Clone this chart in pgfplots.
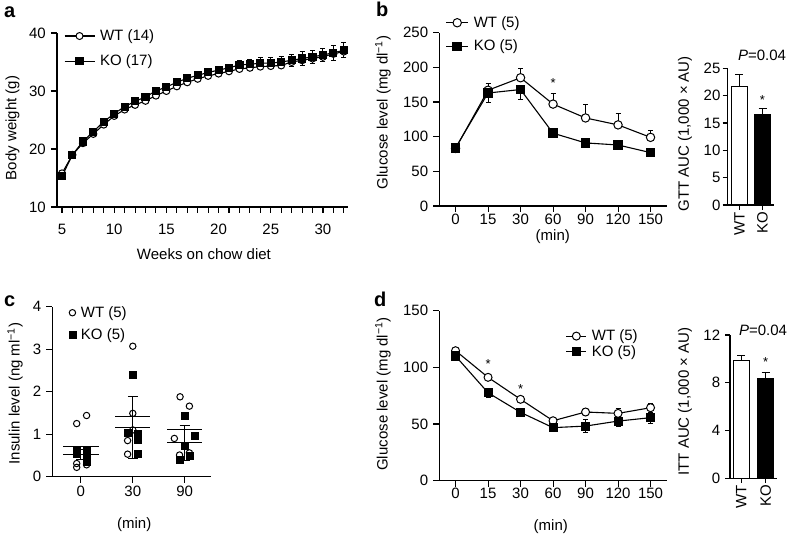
\documentclass[border=0pt]{standalone}
\usepackage{fontspec}
\setmainfont{Liberation Sans}
\usepackage{pgfplots}
\usepackage{pgfplotstable}
\pgfplotsset{compat=1.18}
\pgfplotstableread{
x wt ko e
5 15.8 15.3 0.4
6 19.0 19.0 0.4
7 21.0 21.3 0.4
8 22.6 23.0 0.4
9 24.2 24.7 0.5
10 25.7 26.1 0.5
11 26.8 27.3 0.5
12 27.6 28.2 0.5
13 28.3 29.0 0.5
14 29.2 30.0 0.5
15 30.0 30.7 0.5
16 30.8 31.5 0.5
17 31.5 32.2 0.5
18 32.1 32.7 0.6
19 32.6 33.2 0.6
20 33.0 33.6 0.6
21 33.4 34.0 0.6
22 33.8 34.5 0.7
23 34.0 34.6 0.8
24 34.2 34.8 0.9
25 34.3 34.8 0.9
26 34.4 35.0 0.9
27 35.0 35.3 1.0
28 35.3 35.6 1.2
29 35.6 35.9 1.1
30 35.9 36.2 1.2
31 36.4 36.6 1.3
32 36.8 37.0 1.3
}\bodyweight
\pgfplotstableread{
x wt wte ko koe
0 83 2 84 3
1 167 10 163 14
2 185 14 168 14
3 147 16 105 3
4 127 20 91 3
5 117 17 88 3
6 99 10 77 3
}\gtt
\pgfplotstableread{
x wt wte ko koe
0 114.7 3 110.0 2
1 91.2 2 77.6 4
2 71.8 2 60.3 2
3 52.9 2 46.8 2
4 60.6 3 48.2 6
5 59.4 4 52.6 5
6 64.4 4 55.6 5
}\itt
\pgfplotstableread{
x y
-0.08 1.25
0.11 1.44
-0.08 0.31
-0.08 0.22
0.11 0.28
1.0 1.49
0.9 0.85
0.9 0.53
1.0 1.10
1.0 3.07
1.8 0.90
2.09 1.66
1.91 1.88
1.9 0.51
2.09 0.56
}\insWT
\pgfplotstableread{
x y
-0.08 0.63
-0.08 0.55
0.11 0.63
0.11 0.43
0.11 0.35
0.9 1.04
1.1 1.00
1.1 0.86
1.1 0.53
1.0 2.41
2.0 1.44
2.19 0.96
2.0 0.72
1.9 0.39
2.09 0.49
}\insKO
\pgfplotsset{
  panel/.style={scale only axis, anchor=south west, axis lines*=left, tick align=outside, clip=false,
    axis line style={line width=1.1pt},
    tick style={black, line width=1.1pt},
    major tick length=6pt, minor tick length=6pt,
    /pgf/number format/assume math mode=true,
    tick label style={font=\fontsize{15}{18}\selectfont},
    label style={font=\fontsize{15}{18}\selectfont},
    legend cell align=left,
    legend style={draw=none, fill=none, inner sep=0pt, outer sep=0pt, anchor=north west,
      nodes={inner sep=1pt}, font=\fontsize{15}{18}\selectfont,
      /tikz/every odd column/.append style={column sep=4pt}},
  },
  wt/.style={black, line width=1.1pt, mark=*, mark options={fill=white, draw=black, solid, line width=1pt}},
  ko/.style={black, line width=1.1pt, mark=square*, mark options={fill=black, draw=black, solid}},
  eb/.style={error bars/y explicit, error bars/error bar style={line width=1pt, black}, error bars/error mark options={rotate=90, mark size=#1, line width=1pt, black}},
  eb/.default=2.5pt,
}
\begin{document}
\fontsize{15}{18}\selectfont
\begin{tikzpicture}[x=1pt,y=1pt]
\path[use as bounding box] (0,0) rectangle (788,535);
% panel letters
\node[anchor=base west, font=\bfseries\fontsize{20}{24}\selectfont, inner sep=0pt] at (4,517) {a};
\node[anchor=base west, font=\bfseries\fontsize{20}{24}\selectfont, inner sep=0pt] at (376,518) {b};
\node[anchor=base west, font=\bfseries\fontsize{20}{24}\selectfont, inner sep=0pt] at (4,228) {c};
\node[anchor=base west, font=\bfseries\fontsize{20}{24}\selectfont, inner sep=0pt] at (374,228) {d};

% ---------- panel a ----------
\begin{axis}[panel, at={(57pt,328pt)}, width=291pt, height=174pt,
  xmin=4.52, xmax=32.4, ymin=10, ymax=40,
  xtick={5,10,...,30}, minor xtick={6,...,32}, ytick={10,20,30,40},
  xticklabel style={yshift=-6pt},
  xlabel={Weeks on chow diet}, ylabel={Body weight (g)},
  xlabel style={at={(axis description cs:0.505,-0.27)}, anchor=center},
  ylabel style={at={(axis description cs:-0.153,0.454)}, anchor=center},
  legend style={at={(axis description cs:0.024,1.026)}, row sep=10pt},
  legend image code/.code={\draw[mark repeat=2,mark phase=2,#1] plot coordinates {(0pt,0pt) (15pt,0pt) (30pt,0pt)};},
  mark size=3.5pt]
\addplot[wt] table[x=x,y=wt] {\bodyweight};
\addlegendentry{WT (14)}
\addplot[ko, eb, error bars/y dir=both] table[x=x,y=ko,y error=e] {\bodyweight};
\addlegendentry{KO (17)}
\end{axis}

% ---------- panel b line ----------
\begin{axis}[panel, at={(439.3pt,329pt)}, width=227.5pt, height=173.3pt,
  xmin=-0.5, xmax=6.5, ymin=0, ymax=250,
  xtick={0,...,6}, xticklabels={0,15,30,60,90,120,150}, ytick={0,50,...,250},
  xticklabel style={inner sep=2pt},
  xlabel={(min)}, ylabel={Glucose level (mg dl\textsuperscript{\char"2212 1})},
  xlabel style={at={(axis description cs:0.499,-0.177)}, anchor=center},
  ylabel style={at={(axis description cs:-0.2475,0.54)}, anchor=center},
  legend style={at={(axis description cs:0.028,1.101)}, row sep=8.8pt},
  legend image code/.code={\draw[mark repeat=2,mark phase=2,#1] plot coordinates {(0pt,0pt) (11pt,0pt) (22pt,0pt)};},
  mark size=4.2pt]
\addplot[wt, eb, error bars/y dir=plus] table[x=x,y=wt,y error=wte] {\gtt};
\addlegendentry{WT (5)}
\addplot[ko, eb, error bars/y dir=minus] table[x=x,y=ko,y error=koe] {\gtt};
\addlegendentry{KO (5)}
\node[font=\fontsize{13}{15}\selectfont] at (axis cs:3,178) {*};
\end{axis}

% ---------- panel b bars ----------
\begin{axis}[panel, at={(727.3pt,330pt)}, width=46.7pt, height=136.7pt,
  xmin=0.47, xmax=2.5, ymin=0, ymax=25,
  xtick={1,2}, xticklabels={WT,KO}, ytick={0,5,...,25},
  major tick length=4.7pt,
  xticklabel style={rotate=90, anchor=east, inner sep=2pt},
  yticklabel style={inner sep=2pt},
  ylabel={GTT AUC (1,000 × AU)},
  ylabel style={at={(axis description cs:-0.906,0.52)}, anchor=center}]
\addplot[ybar, bar width=15.6pt, bar shift=0pt, draw=black, fill=white, line width=1.1pt, eb=4pt, error bars/y dir=plus] coordinates {(1,21.6) +- (0,2.3)};
\addplot[ybar, bar width=15.6pt, bar shift=0pt, draw=black, fill=black, line width=1.1pt, eb=4pt, error bars/y dir=plus] coordinates {(2,16.6) +- (0,1.1)};
\node[font=\fontsize{13}{15}\selectfont] at (axis cs:2,19.2) {*};
\node at (axis description cs:0.743,1.097) {\textit{P}=0.04};
\end{axis}

% ---------- panel c ----------
\begin{axis}[panel, at={(52.3pt,58.3pt)}, width=158.4pt, height=170pt,
  xmin=-0.55, xmax=2.5, ymin=0, ymax=4,
  xtick={0,1,2}, xticklabels={0,30,90}, ytick={0,1,2,3,4},
  xticklabel style={inner sep=3pt},
  xlabel={(min)}, ylabel={Insulin level (ng ml\textsuperscript{\char"2212 1})},
  xlabel style={at={(axis description cs:0.517,-0.284)}, anchor=center},
  ylabel style={at={(axis description cs:-0.235,0.489)}, anchor=center},
  legend style={at={(axis description cs:0.105,1.009)}, row sep=7pt},
  legend image code/.code={\draw[mark repeat=2,mark phase=2,#1] plot coordinates {(0pt,0pt) (4pt,0pt) (8pt,0pt)};}]
\addplot[draw=none, mark=none, forget plot, eb=5pt, error bars/y dir=both] coordinates {(0,0.52) +- (0,0.12) (1,1.16) +- (0,0.73) (2,0.80) +- (0,0.41)};
\addplot[black, line width=1.1pt, forget plot] coordinates {(-0.34,0.70) (0.34,0.70)};
\addplot[black, line width=1.1pt, forget plot] coordinates {(-0.34,0.52) (0.34,0.52)};
\addplot[black, line width=1.1pt, forget plot] coordinates {(0.66,1.41) (1.34,1.41)};
\addplot[black, line width=1.1pt, forget plot] coordinates {(0.66,1.16) (1.34,1.16)};
\addplot[black, line width=1.1pt, forget plot] coordinates {(1.66,1.10) (2.34,1.10)};
\addplot[black, line width=1.1pt, forget plot] coordinates {(1.66,0.80) (2.34,0.80)};
\addplot[only marks, mark=o, mark size=3.2pt, mark options={line width=1pt, black}] table[x=x,y=y] {\insWT};
\addlegendentry{WT (5)}
\addplot[only marks, mark=square*, mark size=3.5pt, mark options={black}] table[x=x,y=y] {\insKO};
\addlegendentry{KO (5)}
\end{axis}

% ---------- panel d line ----------
\begin{axis}[panel, at={(439.3pt,54.3pt)}, width=227.5pt, height=170pt,
  xmin=-0.5, xmax=6.5, ymin=0, ymax=150,
  xtick={0,...,6}, xticklabels={0,15,30,60,90,120,150}, ytick={0,50,100,150},
  xticklabel style={inner sep=1pt},
  xlabel={(min)}, ylabel={Glucose level (mg dl\textsuperscript{\char"2212 1})},
  xlabel style={at={(axis description cs:0.49,-0.27)}, anchor=center},
  ylabel style={at={(axis description cs:-0.2475,0.51)}, anchor=center},
  legend style={at={(axis description cs:0.556,0.895)}, row sep=0.5pt},
  legend image code/.code={\draw[mark repeat=2,mark phase=2,#1] plot coordinates {(0pt,0pt) (10pt,0pt) (20pt,0pt)};},
  mark size=4pt]
\addplot[wt, eb, error bars/y dir=both] table[x=x,y=wt,y error=wte] {\itt};
\addlegendentry{WT (5)}
\addplot[ko, eb, error bars/y dir=both] table[x=x,y=ko,y error=koe] {\itt};
\addlegendentry{KO (5)}
\node[font=\fontsize{13}{15}\selectfont] at (axis cs:1,103) {*};
\node[font=\fontsize{13}{15}\selectfont] at (axis cs:2,81) {*};
\end{axis}

% ---------- panel d bars ----------
\begin{axis}[panel, at={(730pt,56.7pt)}, width=46.7pt, height=143.3pt,
  xmin=0.54, xmax=2.45, ymin=0, ymax=12,
  xtick={1,2}, xticklabels={WT,KO}, ytick={0,4,8,12},
  major tick length=4.7pt,
  xticklabel style={rotate=90, anchor=east, inner sep=2pt},
  ylabel={ITT AUC (1,000 × AU)},
  ylabel style={at={(axis description cs:-0.964,0.535)}, anchor=center}]
\addplot[ybar, bar width=16pt, bar shift=0pt, draw=black, fill=white, line width=1.1pt, eb=4pt, error bars/y dir=plus] coordinates {(1,9.85) +- (0,0.45)};
\addplot[ybar, bar width=16pt, bar shift=0pt, draw=black, fill=black, line width=1.1pt, eb=4pt, error bars/y dir=plus] coordinates {(2,8.37) +- (0,0.5)};
\node[font=\fontsize{13}{15}\selectfont] at (axis cs:2,9.7) {*};
\node at (axis description cs:0.707,1.035) {\textit{P}=0.04};
\end{axis}
\end{tikzpicture}
\end{document}
